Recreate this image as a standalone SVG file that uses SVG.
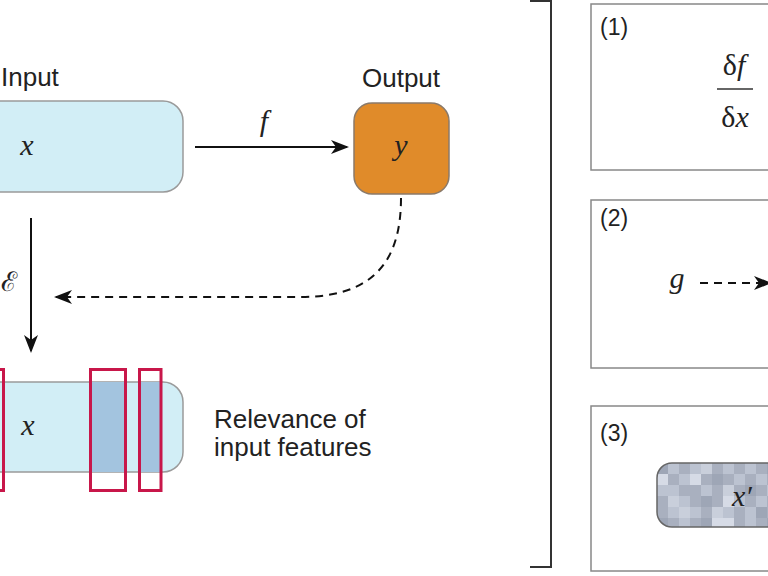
<svg xmlns="http://www.w3.org/2000/svg" width="768" height="576" viewBox="0 0 768 576">
<style>
.lbl{font-family:"Liberation Sans",Arial,sans-serif;font-size:26px;fill:#222}
.num{font-family:"Liberation Sans",Arial,sans-serif;font-size:23px;fill:#222}
.math{font-family:"Liberation Serif","Times New Roman",serif;font-style:italic;font-size:30px;fill:#222}
.up{font-style:normal}
.panel{fill:#fff;stroke:#888;stroke-width:1.5}
.inbox{fill:#d2eef6;stroke:#9a9a9a;stroke-width:1.5}
.rel{fill:none;stroke:#c8174a;stroke-width:3}
.hl{fill:#a3c4df}
.conn{fill:none;stroke:#111;stroke-width:2}
.dash{stroke-dasharray:8 6}
</style>
<defs>
<marker id="ah" markerWidth="18" markerHeight="14" refX="16" refY="7" orient="auto" markerUnits="userSpaceOnUse">
<path d="M0,0 L18,7 L0,14 L5,7 z" fill="#111"/>
</marker>
<clipPath id="pixclip"><rect x="657" y="463" width="140" height="64" rx="15"/></clipPath>
</defs>

<g id="bracket">
<path d="M530,1 L551,1 L551,567 L530,567" fill="none" stroke="#333" stroke-width="2"/>
</g>

<g id="input">
<rect class="inbox" x="-40" y="101" width="223" height="91" rx="20"/>
<text class="lbl" x="1" y="86">Input</text>
<text class="math" x="27" y="155" text-anchor="middle">x</text>
</g>

<g id="output">
<rect x="354" y="103" width="95" height="91" rx="18" fill="#e08b2a" stroke="#8a7a6a" stroke-width="1.5"/>
<text class="lbl" x="401" y="87" text-anchor="middle">Output</text>
<text class="math" x="401" y="155" text-anchor="middle">y</text>
</g>

<g id="relevance">
<rect class="inbox" x="-40" y="382" width="223" height="90" rx="20"/>
<rect class="hl" x="92" y="382" width="33" height="90"/>
<rect class="hl" x="140" y="382" width="20" height="90"/>
<text class="math" x="28" y="435" text-anchor="middle">x</text>
<rect class="rel" x="-30" y="369.5" width="33.5" height="121"/>
<rect class="rel" x="90.5" y="369.5" width="35" height="121"/>
<rect class="rel" x="139.5" y="369.5" width="21.5" height="121"/>
<text class="lbl" x="214" y="428">Relevance of</text>
<text class="lbl" x="214" y="456">input features</text>
</g>

<g id="connectors">
<line class="conn" x1="195" y1="147" x2="347" y2="147" marker-end="url(#ah)"/>
<text class="math" x="264" y="131" text-anchor="middle">f</text>
<line class="conn" x1="31" y1="218" x2="31" y2="351" stroke-width="1.5" marker-end="url(#ah)"/>
<text x="1" y="291" font-family="DejaVu Serif,serif" font-size="27" fill="#222">ℰ</text>
<path class="conn dash" d="M401,198 C401,265 370,297 300,297 L56,297" stroke-width="1.8" marker-end="url(#ah)"/>
</g>

<g id="panel1">
<rect class="panel" x="591" y="4" width="200" height="166"/>
<text class="num" x="600" y="35">(1)</text>
<text class="math" x="734" y="75" text-anchor="middle"><tspan class="up">δ</tspan>f</text>
<line x1="717" y1="89" x2="753" y2="89" stroke="#333" stroke-width="1.5"/>
<text class="math" x="735" y="127" text-anchor="middle"><tspan class="up">δ</tspan>x</text>
</g>

<g id="panel2">
<rect class="panel" x="591" y="200" width="200" height="168"/>
<text class="num" x="600" y="226">(2)</text>
<text class="math" x="677" y="288" text-anchor="middle">g</text>
<line class="conn dash" x1="700" y1="283" x2="770" y2="283" stroke-width="1.8" stroke-dasharray="6 5" marker-end="url(#ah)"/>
</g>

<g id="panel3">
<rect class="panel" x="591" y="406" width="200" height="165"/>
<text class="num" x="600" y="441">(3)</text>
<g clip-path="url(#pixclip)">
<g transform="translate(657,463)">
<rect x="0" y="0" width="120" height="64" fill="#a9b0bf"/>
<rect x="0" y="0" width="11" height="11" fill="#9ea6b6"/><rect x="11" y="0" width="11" height="11" fill="#bcc3d1"/><rect x="33" y="0" width="11" height="11" fill="#bcc3d1"/><rect x="44" y="0" width="11" height="11" fill="#c9cfdb"/><rect x="66" y="0" width="11" height="11" fill="#bcc3d1"/><rect x="88" y="0" width="11" height="11" fill="#bcc3d1"/><rect x="110" y="0" width="11" height="11" fill="#9ea6b6"/>
<rect x="0" y="11" width="11" height="11" fill="#d6dbe6"/><rect x="22" y="11" width="11" height="11" fill="#bcc3d1"/><rect x="33" y="11" width="11" height="11" fill="#d6dbe6"/><rect x="55" y="11" width="11" height="11" fill="#9ea6b6"/><rect x="77" y="11" width="11" height="11" fill="#bcc3d1"/><rect x="99" y="11" width="11" height="11" fill="#bcc3d1"/>
<rect x="0" y="22" width="11" height="11" fill="#bcc3d1"/><rect x="11" y="22" width="11" height="11" fill="#bcc3d1"/><rect x="44" y="22" width="11" height="11" fill="#bcc3d1"/><rect x="66" y="22" width="11" height="11" fill="#c9cfdb"/><rect x="88" y="22" width="11" height="11" fill="#9ea6b6"/><rect x="110" y="22" width="11" height="11" fill="#bcc3d1"/>
<rect x="11" y="33" width="11" height="11" fill="#c9cfdb"/><rect x="22" y="33" width="11" height="11" fill="#bcc3d1"/><rect x="44" y="33" width="11" height="11" fill="#9ea6b6"/><rect x="66" y="33" width="11" height="11" fill="#d6dbe6"/><rect x="77" y="33" width="11" height="11" fill="#bcc3d1"/><rect x="99" y="33" width="11" height="11" fill="#bcc3d1"/>
<rect x="11" y="44" width="11" height="11" fill="#bcc3d1"/><rect x="22" y="44" width="11" height="11" fill="#c9cfdb"/><rect x="33" y="44" width="11" height="11" fill="#bcc3d1"/><rect x="55" y="44" width="11" height="11" fill="#c9cfdb"/><rect x="66" y="44" width="11" height="11" fill="#bcc3d1"/><rect x="88" y="44" width="11" height="11" fill="#bcc3d1"/><rect x="99" y="44" width="11" height="11" fill="#9ea6b6"/>
<rect x="0" y="55" width="11" height="11" fill="#9ea6b6"/><rect x="22" y="55" width="11" height="11" fill="#bcc3d1"/><rect x="44" y="55" width="11" height="11" fill="#9ea6b6"/><rect x="55" y="55" width="11" height="11" fill="#d6dbe6"/><rect x="66" y="55" width="11" height="11" fill="#d6dbe6"/><rect x="88" y="55" width="11" height="11" fill="#bcc3d1"/><rect x="110" y="55" width="11" height="11" fill="#9ea6b6"/>
</g>
</g>
<rect x="657" y="463" width="140" height="64" rx="15" fill="none" stroke="#666" stroke-width="1.5"/>
<text class="math" x="742" y="506" text-anchor="middle">x′</text>
</g>
</svg>
